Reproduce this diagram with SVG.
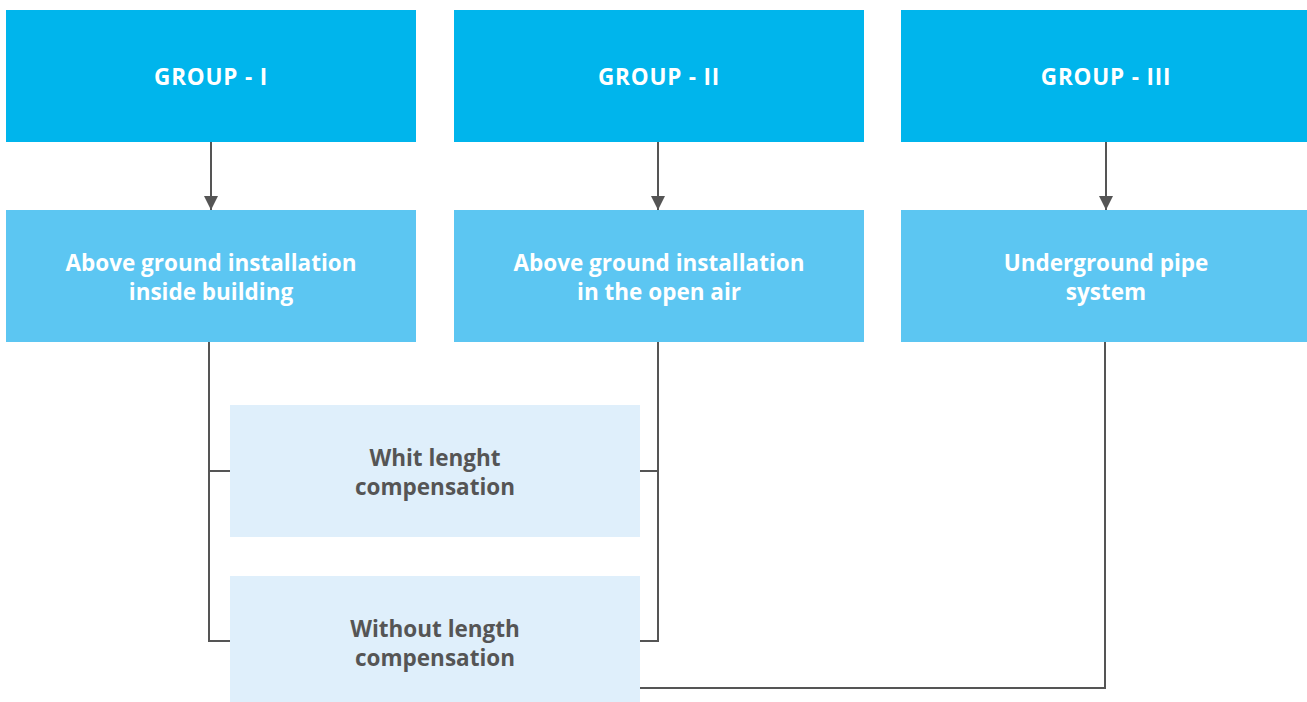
<svg xmlns="http://www.w3.org/2000/svg" width="1307" height="702" viewBox="0 0 1307 702">
<style>
.top{fill:#00B5EC}
.mid{fill:#5CC6F2}
.low{fill:#DFEFFB}
.tw{font-family:"Open Sans","Liberation Sans",sans-serif;font-weight:700;font-size:22.5px;fill:#ffffff;text-anchor:middle}
.th{letter-spacing:0.8px}
.tg{font-family:"Open Sans","Liberation Sans",sans-serif;font-weight:700;font-size:22.5px;fill:#555555;text-anchor:middle}
.ln{fill:none;stroke:#555555;stroke-width:2}
</style>
<defs>
<marker id="ah" viewBox="0 0 14 18" refX="14" refY="9" markerWidth="14" markerHeight="18" markerUnits="userSpaceOnUse" orient="auto">
<path d="M0,2 L14,9 L0,16 Z" fill="#555555"/>
</marker>
</defs>
<rect width="1307" height="702" fill="#ffffff"/>
<g id="g1"><rect class="top" x="6" y="10" width="410" height="132"/><text class="tw th" x="211" y="85">GROUP - I</text></g>
<g id="g2"><rect class="top" x="454" y="10" width="410" height="132"/><text class="tw th" x="659" y="85">GROUP - II</text></g>
<g id="g3"><rect class="top" x="901" y="10" width="406" height="132"/><text class="tw th" x="1106" y="85">GROUP - III</text></g>
<g id="m1"><rect class="mid" x="6" y="210" width="410" height="132"/><text class="tw" x="211" y="271">Above ground installation</text><text class="tw" x="211" y="300">inside building</text></g>
<g id="m2"><rect class="mid" x="454" y="210" width="410" height="132"/><text class="tw" x="659" y="271">Above ground installation</text><text class="tw" x="659" y="300">in the open air</text></g>
<g id="m3"><rect class="mid" x="901" y="210" width="406" height="132"/><text class="tw" x="1106" y="271">Underground pipe</text><text class="tw" x="1106" y="300">system</text></g>
<g id="connectors">
<line class="ln" x1="211" y1="142" x2="211" y2="210" marker-end="url(#ah)"/>
<line class="ln" x1="658" y1="142" x2="658" y2="210" marker-end="url(#ah)"/>
<line class="ln" x1="1106" y1="142" x2="1106" y2="210" marker-end="url(#ah)"/>
<path class="ln" d="M209,342 V641 H230 M209,471 H230"/>
<path class="ln" d="M658,342 V641 H640 M658,471 H640"/>
<path class="ln" d="M1105,342 V688 H640"/>
</g>
<g id="l1"><rect class="low" x="230" y="405" width="410" height="132"/><text class="tg" x="435" y="466">Whit lenght</text><text class="tg" x="435" y="495">compensation</text></g>
<g id="l2"><rect class="low" x="230" y="576" width="410" height="126"/><text class="tg" x="435" y="637">Without length</text><text class="tg" x="435" y="666">compensation</text></g>
</svg>
